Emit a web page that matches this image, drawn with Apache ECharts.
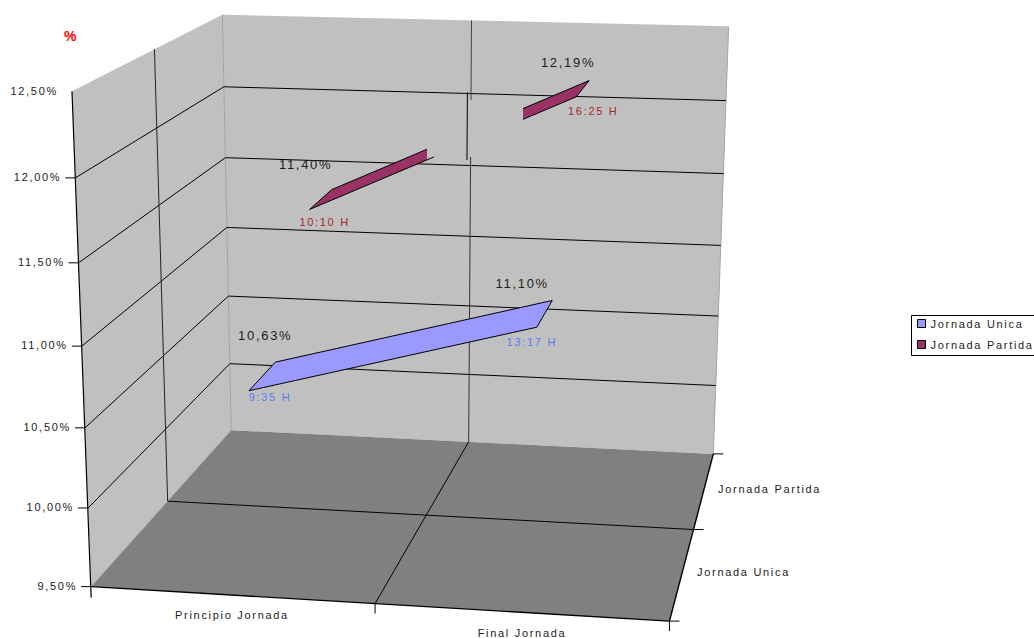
<!DOCTYPE html>
<html>
<head>
<meta charset="utf-8">
<style>
  html, body { margin: 0; padding: 0; background: #fff; }
  #chart { width: 1034px; height: 638px; letter-spacing: 1.7px; }
</style>
<script src="https://cdn.jsdelivr.net/npm/echarts@6/dist/echarts.min.js"></script>
</head>
<body>
<div id="chart"></div>
<script>
// Chart content
const categories = ['Principio Jornada', 'Final Jornada'];
const seriesNames = ['Jornada Unica', 'Jornada Partida'];
const jornadaUnica = [10.63, 11.10];
const jornadaPartida = [11.40, 12.19];
const horasUnica = ['9:35 H', '13:17 H'];
const horasPartida = ['10:10 H', '16:25 H'];
const valueTicks = [9.5, 10, 10.5, 11, 11.5, 12, 12.5];
const valueTickLabels = ['9,50%', '10,00%', '10,50%', '11,00%', '11,50%', '12,00%', '12,50%'];

// Colours
const WALL = '#c0c0c0', FLOOR = '#808080', EDGE = '#a4a4a4', INK = '#1c1c1c', RULE = '#000';
const UNICA = '#9999ff', PARTIDA = '#993366';
const UNICA_TEXT = '#5c7cf5', PARTIDA_TEXT = '#a0282c';

// Unit-cube anchors of the box (across, depth, height) and where each lands on the page.
const anchors = [
  [0, 0, 0, 91, 586], [1, 0, 0, 670, 622], [1, 1, 0, 714, 453], [0, 1, 0, 231, 431],
  [0, 0, 1, 72, 91], [0, 1, 1, 222, 15], [1, 1, 1, 729, 27],
  [0, .5, 0, 168, 502], [0, .5, 1, 155, 49], [.5, 0, 0, 375, 603],
  [.5, 1, 0, 469, 441], [.5, 1, 1, 471, 20], [1, .5, 0, 692, 530]
];

// Least-squares camera matrix for the box.
function fitCamera(pts) {
  const rows = [];
  pts.forEach(([u, v, w, x, y]) => {
    rows.push([u, v, w, 1, 0, 0, 0, 0, -x * u, -x * v, -x * w, x]);
    rows.push([0, 0, 0, 0, u, v, w, 1, -y * u, -y * v, -y * w, y]);
  });
  const n = 11, m = [];
  for (let i = 0; i < n; i++) {
    m.push(new Array(n + 1).fill(0));
    for (let j = 0; j <= n; j++) rows.forEach(r => { m[i][j] += r[i] * r[j]; });
  }
  for (let c = 0; c < n; c++) {
    let best = c;
    for (let r = c + 1; r < n; r++) if (Math.abs(m[r][c]) > Math.abs(m[best][c])) best = r;
    [m[c], m[best]] = [m[best], m[c]];
    for (let r = 0; r < n; r++) {
      if (r === c) continue;
      const f = m[r][c] / m[c][c];
      for (let j = c; j <= n; j++) m[r][j] -= f * m[c][j];
    }
  }
  return m.map((row, i) => row[n] / row[i]);
}
const cam = fitCamera(anchors);
function project(u, v, w) {
  const d = cam[8] * u + cam[9] * v + cam[10] * w + 1;
  return [
    (cam[0] * u + cam[1] * v + cam[2] * w + cam[3]) / d,
    (cam[4] * u + cam[5] * v + cam[6] * w + cam[7]) / d
  ];
}

// The hidden grid supplies the category and value scales; its box is read back as unit fractions.
const GRID = { left: 0, top: 0, width: 1000, height: 600 };
const unitOf = (api, cat, val) => {
  const c = api.coord([cat, val]);
  return [(c[0] - GRID.left) / GRID.width, 1 - (c[1] - GRID.top) / GRID.height];
};

const line = (a, b, stroke, lineWidth) => ({
  type: 'line',
  shape: { x1: a[0], y1: a[1], x2: b[0], y2: b[1] },
  style: { stroke: stroke || RULE, lineWidth: lineWidth || 1, fill: null }
});
const poly = (points, fill, stroke) => ({
  type: 'polygon',
  shape: { points },
  style: { fill, stroke: stroke || null, lineWidth: 1 }
});
const label = (text, x, y, align, size, color, weight) => ({
  type: 'text',
  style: {
    text, x, y, textAlign: align, textVerticalAlign: 'middle',
    fontFamily: 'Liberation Sans', fontSize: size, fontWeight: weight || 'normal',
    fill: color || INK
  }
});
const along = (a, b, t) => [a[0] + (b[0] - a[0]) * t, a[1] + (b[1] - a[1]) * t];
const atX = (a, b, x) => along(a, b, (x - a[0]) / (b[0] - a[0]));
const atY = (a, b, y) => along(a, b, (y - a[1]) / (b[1] - a[1]));

function renderBox(params, api) {
  const kids = [];
  const P = project;
  // Walls and floor
  kids.push(poly([P(0, 0, 0), P(0, 0, 1), P(0, 1, 1), P(0, 1, 0)], WALL));
  kids.push(poly([P(0, 1, 0), P(0, 1, 1), P(1, 1, 1), P(1, 1, 0)], WALL));
  kids.push(poly([P(0, 0, 0), P(1, 0, 0), P(1, 1, 0), P(0, 1, 0)], FLOOR));
  kids.push(line(P(0, 1, 0), P(0, 1, 1), EDGE));
  kids.push(line(P(1, 1, 0), P(1, 1, 1), EDGE));
  kids.push(line(P(0, 0, 0), P(0, 1, 0), EDGE));

  // Value gridlines, ticks and labels
  valueTicks.forEach((t, i) => {
    const w = unitOf(api, 0, t)[1];
    const front = P(0, 0, w);
    if (i > 0 && i < valueTicks.length - 1) {
      kids.push(line(front, P(0, 1, w)));
      kids.push(line(P(0, 1, w), P(1, 1, w)));
    }
    if (i < valueTicks.length - 1) kids.push(line([front[0] - 10, front[1]], front));
    kids.push(label(valueTickLabels[i], front[0] - 14, front[1] - 0.7, 'right', 11));
  });

  // Dividers between categories and between series
  const wallTop = P(.5, 1, 1), wallFoot = P(.5, 1, 0);
  kids.push(line(wallTop, atY(wallTop, wallFoot, 100), '#444'));
  const s0 = atY(wallTop, wallFoot, 92), s1 = atY(wallTop, wallFoot, 160);
  kids.push(line([s0[0] - 3.6, s0[1]], [s1[0] - 3.6, s1[1]]));
  kids.push(line(atY(wallTop, wallFoot, 157), wallFoot, '#333'));
  kids.push(line(P(.5, 1, 0), P(.5, 0, 0)));
  kids.push(line(P(0, .5, 0), P(0, .5, 1), '#222'));
  kids.push(line(P(0, .5, 0), P(1, .5, 0)));

  // Box outline and tick marks on the floor edges
  kids.push(line(P(0, 0, 1), [P(0, 0, 0)[0], P(0, 0, 0)[1] + 11], '#000', 1.2));
  kids.push(line(P(0, 0, 0), P(1, 0, 0), '#000', 1.4));
  kids.push(line(P(1, 0, 0), P(1, 1, 0), '#000', 1.4));
  [.5, 1].forEach(u => {
    const p = P(u, 0, 0);
    kids.push(line(p, [p[0], p[1] + 10]));
  });
  [0, .5, 1].forEach(v => {
    const p = P(1, v, 0);
    kids.push(line(p, [p[0] + 10, p[1]]));
  });

  // Axis captions
  kids.push(label('%', 71, 36, 'center', 14, '#ff0000', 'bold'));
  kids.push(label(categories[0], 232, 615, 'center', 11));
  kids.push(label(categories[1], 522, 633, 'center', 11));
  kids.push(label(seriesNames[1], 718, 489, 'left', 11));
  kids.push(label(seriesNames[0], 697, 572, 'left', 11));

  // Legend frame
  kids.push({
    type: 'rect',
    shape: { x: 911.5, y: 315.5, width: 130, height: 40 },
    style: { fill: '#fff', stroke: '#000', lineWidth: 1 }
  });
  return { type: 'group', children: kids };
}

// Each ribbon runs across the two categories at a fixed depth slot.
function ribbonRenderer(values, depth, fill, hours, timeColor, captions, cut) {
  return function (params, api) {
    const half = 0.1;
    const a = unitOf(api, 0, values[0]);
    const b = unitOf(api, 1, values[1]);
    const f0 = project(a[0], depth - half, a[1]), r0 = project(a[0], depth + half, a[1]);
    const f1 = project(b[0], depth - half, b[1]), r1 = project(b[0], depth + half, b[1]);
    const kids = [];
    if (cut) {
      // The ribbon is interrupted between two page columns; only its long edges are inked there.
      const fa = atX(f0, f1, cut[0]), ra = atX(r0, r1, cut[0]);
      const fb = atX(f0, f1, cut[1]), rb = atX(r0, r1, cut[1]);
      kids.push(poly([f0, r0, ra, fa], fill));
      kids.push(poly([fb, rb, r1, f1], fill));
      kids.push(line(fa, f0), line(f0, r0), line(r0, ra));
      kids.push(line(fa, atX(f0, f1, cut[0] + 7)));
      kids.push(line(fb, f1), line(f1, r1), line(r1, rb));
    } else {
      kids.push(poly([f0, r0, r1, f1], fill, '#000'));
    }
    const text = v => v.toFixed(2).replace('.', ',') + '%';
    [[f0, r0], [f1, r1]].forEach(([f, r], i) => {
      kids.push(label(text(values[i]), r[0] + captions[i][0], r[1] + captions[i][1], 'center', 13));
      kids.push(label(hours[i], f[0] + captions[i][2], f[1] + captions[i][3], 'center', 11, timeColor));
    });
    return { type: 'group', children: kids };
  };
}

const chart = echarts.init(document.getElementById('chart'), null, { renderer: 'svg' });
chart.setOption({
  animation: false,
  backgroundColor: '#fff',
  textStyle: { fontFamily: 'Liberation Sans' },
  grid: Object.assign({ show: false }, GRID),
  xAxis: { type: 'category', data: categories, show: false },
  yAxis: { type: 'value', min: 9.5, max: 12.5, interval: 0.5, show: false },
  legend: {
    left: 911, top: 312, orient: 'vertical', padding: [6, 40, 6, 6], itemGap: 10,
    itemWidth: 8, itemHeight: 8, selectedMode: false,
    textStyle: { fontFamily: 'Liberation Sans', fontSize: 11, color: INK },
    data: [
      { name: seriesNames[0], icon: 'rect', itemStyle: { color: UNICA, borderColor: '#000', borderWidth: 1 } },
      { name: seriesNames[1], icon: 'rect', itemStyle: { color: PARTIDA, borderColor: '#000', borderWidth: 1 } }
    ]
  },
  series: [
    { type: 'custom', silent: true, z: 1, data: [[0, 9.5]], renderItem: renderBox, clip: false },
    {
      type: 'custom', name: seriesNames[0], silent: true, z: 2, clip: false,
      itemStyle: { color: UNICA },
      data: [[0, jornadaUnica[0]]],
      renderItem: ribbonRenderer(jornadaUnica, .25, UNICA, horasUnica, UNICA_TEXT,
        [[-10, -27, 21, 6], [-30, -17, -5, 15]])
    },
    {
      type: 'custom', name: seriesNames[1], silent: true, z: 2, clip: false,
      itemStyle: { color: PARTIDA },
      data: [[0, jornadaPartida[0]]],
      renderItem: ribbonRenderer(jornadaPartida, .75, PARTIDA, horasPartida, PARTIDA_TEXT,
        [[-26, -25, 15, 13], [-21, -18, 17, 14]], [427, 523])
    }
  ]
});
</script>
</body>
</html>
